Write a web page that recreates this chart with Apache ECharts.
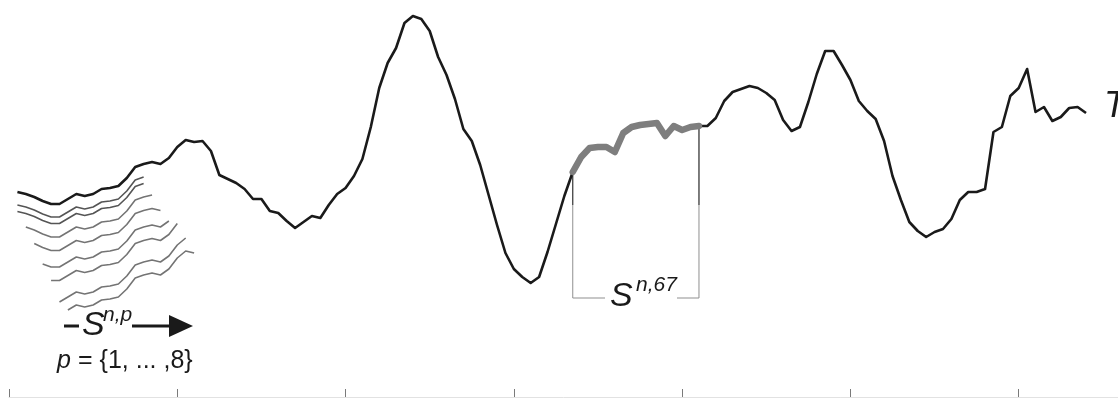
<!DOCTYPE html>
<html>
<head>
<meta charset="utf-8">
<script src="https://cdn.jsdelivr.net/npm/echarts@6/dist/echarts.min.js"></script>
<style>
  html, body { margin: 0; padding: 0; background: #fff; }
  #chart { width: 1118px; height: 398px; }
</style>
</head>
<body>
<div id="chart"></div>
<script>
// time series T, one value per sample (samples 1..128)
const tValues = [
  205, 203, 200, 196, 193, 193, 198, 203, 201, 203,
  208, 209, 211, 219, 230, 233, 235, 233, 239, 250,
  257, 255, 256, 246, 222, 218, 214, 208, 198, 198,
  186, 184, 176, 169, 175, 181, 179, 192, 203, 209,
  221, 238, 270, 309, 334, 349, 374, 381, 378, 366,
  340, 322, 298, 268, 256, 232, 202, 172, 144, 128,
  120, 114, 120, 145, 173, 201, 225, 240, 249, 250,
  250, 245, 264, 270, 272, 273, 274, 261, 271, 267,
  270, 271, 271, 279, 296, 305, 308, 311, 309, 304,
  297, 277, 266, 270, 295, 323, 346, 346, 332, 317,
  296, 286, 278, 256, 221, 197, 175, 166, 160, 165,
  168, 178, 197, 205, 205, 208, 265, 270, 301, 309,
  328, 285, 290, 276, 280, 289, 290, 284
];

// highlighted subsequence S^{n,67}
const winStart = 67;
const winEnd = 82;

// sliding subsequences S^{n,p}, p = 1..8 (sample range and vertical drop for display)
const fanFrom = [1, 1, 2, 3, 4, 5, 6, 7];
const fanTo = [16, 16, 17, 18, 19, 20, 21, 22];
const fanDrop = [13, 19.5, 33, 46.5, 63, 76.5, 98, 111];

// sample ticks along the bottom
const xTicks = [0, 20, 40, 60, 80, 100, 120];

const tPoints = tValues.map((v, i) => [i + 1, v]);
const inRange = (a, b) => tPoints.filter(p => p[0] >= a && p[0] <= b);

const ink = '#1a1a1a';
const series = [];

fanFrom.forEach((from, i) => {
    series.push({
        type: 'line',
        data: inRange(from, fanTo[i]).map(p => [p[0], p[1] - fanDrop[i]]),
        showSymbol: false,
        symbol: 'none',
        silent: true,
        z: 2,
        lineStyle: { color: i < 2 ? '#555' : '#747474', width: 1.6, join: 'round' }
    });
});

series.push({
    type: 'line',
    data: tPoints,
    showSymbol: false,
    symbol: 'none',
    silent: true,
    z: 3,
    lineStyle: { color: ink, width: 2.6, join: 'round' }
});

// bracket under the highlighted window
const bracketLevel = 99;
const darkLevel = 192;
const yStart = tValues[winStart - 1];
const yEnd = tValues[winEnd - 1];
series.push({
    type: 'line',
    data: [[winStart, yStart], [winStart, bracketLevel], [winEnd, bracketLevel], [winEnd, yEnd]],
    showSymbol: false,
    symbol: 'none',
    silent: true,
    z: 2,
    lineStyle: { color: '#8f8f8f', width: 1 }
});
[[winStart, yStart], [winEnd, yEnd]].forEach(p => {
    series.push({
        type: 'line',
        data: [p, [p[0], darkLevel]],
        showSymbol: false,
        symbol: 'none',
        silent: true,
        z: 2,
        lineStyle: { color: '#333', width: 1 }
    });
});

series.push({
    type: 'line',
    data: inRange(winStart, winEnd),
    showSymbol: false,
    symbol: 'none',
    silent: true,
    z: 4,
    lineStyle: { color: '#7e7e7e', width: 6.5, cap: 'round', join: 'round' }
});

const font = (size, italic) => (italic ? 'italic ' : '') + size + 'px "Liberation Sans", Arial, sans-serif';

const chart = echarts.init(document.getElementById('chart'));
chart.setOption({
    animation: false,
    backgroundColor: '#fff',
    grid: { left: 9, right: 0, top: 0, bottom: 1 },
    xAxis: {
        type: 'value',
        min: 0,
        max: 131.8,
        axisLine: { show: true, lineStyle: { color: '#e2e2e2', width: 1 } },
        axisTick: { show: true, inside: true, length: 8, customValues: xTicks, lineStyle: { color: '#7a7a7a', width: 1 } },
        axisLabel: { show: false, customValues: xTicks },
        splitLine: { show: false }
    },
    yAxis: { type: 'value', min: 0, max: 397, show: false },
    series: series,
    graphic: [
        // gap in the bracket for its label
        { type: 'rect', z: 100, shape: { x: 605, y: 294, width: 72, height: 8 }, style: { fill: '#fff' } },
        { type: 'text', z: 101, style: { x: 610, y: 297, text: 'S', font: font(34, true), fill: ink, textVerticalAlign: 'middle' } },
        { type: 'text', z: 101, style: { x: 636, y: 285, text: 'n,67', font: font(21, true), fill: ink, textVerticalAlign: 'middle' } },

        // S^{n,p} with sliding arrow
        { type: 'line', z: 101, shape: { x1: 64, y1: 326, x2: 79, y2: 326 }, style: { stroke: ink, lineWidth: 3 } },
        { type: 'text', z: 101, style: { x: 82, y: 326, text: 'S', font: font(34, true), fill: ink, textVerticalAlign: 'middle' } },
        { type: 'text', z: 101, style: { x: 103, y: 315, text: 'n,p', font: font(21, true), fill: ink, textVerticalAlign: 'middle' } },
        { type: 'line', z: 101, shape: { x1: 132, y1: 326, x2: 172, y2: 326 }, style: { stroke: ink, lineWidth: 3 } },
        { type: 'polygon', z: 101, shape: { points: [[169, 315], [193, 326], [169, 337]] }, style: { fill: ink } },

        { type: 'text', z: 101, style: { x: 57, y: 361, text: 'p', font: font(25, true), fill: ink, textVerticalAlign: 'middle' } },
        { type: 'text', z: 101, style: { x: 78, y: 361, text: '= {1, ... ,8}', font: font(25, false), fill: ink, textVerticalAlign: 'middle' } },

        { type: 'text', z: 101, style: { x: 1104, y: 107, text: 'T', font: font(36, true), fill: ink, textVerticalAlign: 'middle' } }
    ]
});
</script>
</body>
</html>
